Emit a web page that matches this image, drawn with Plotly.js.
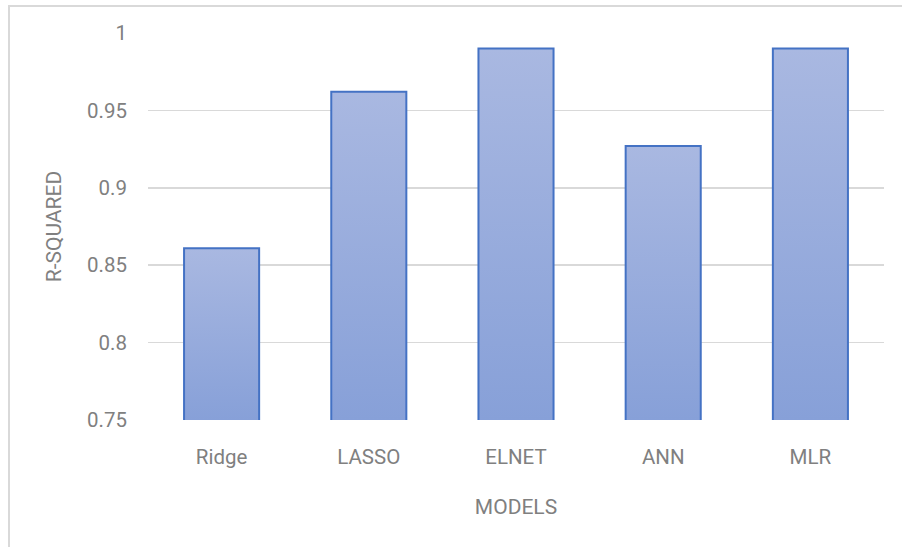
<!DOCTYPE html>
<html>
<head>
<meta charset="utf-8">
<script src="https://cdn.plot.ly/plotly-3.0.1.min.js"></script>
<style>
  body { margin: 0; background: #fff; }
  #wrap { position: relative; width: 902px; height: 547px; overflow: hidden; }
  #chart { position: absolute; left: 0; top: 0; width: 902px; height: 547px; }
  #frame { position: absolute; left: 8px; top: 5px; width: 1000px; height: 700px;
           border: 2px solid #d9d9d9; pointer-events: none; box-sizing: border-box; }
</style>
</head>
<body>
<div id="wrap">
  <div id="chart"></div>
  <div id="frame"></div>
</div>
<script>
const models = ["Ridge", "LASSO", "ELNET", "ANN", "MLR"];
const rSquared = [0.861, 0.962, 0.990, 0.927, 0.990];
const yTicks = [0.75, 0.8, 0.85, 0.9, 0.95, 1];
const yTickText = ["0.75", "0.8", "0.85", "0.9", "0.95", "1"];

const font = "Roboto, 'Open Sans', sans-serif";
const grey = "#808080";

const trace = {
  type: "bar",
  x: models,
  y: rSquared,
  width: 0.51,
  marker: { color: "#98acdc", line: { color: "#4472c4", width: 2 } },
  hoverinfo: "x+y"
};

const layout = {
  width: 902, height: 547,
  margin: { l: 148, r: 18, t: 33, b: 127 },
  paper_bgcolor: "#fff", plot_bgcolor: "#fff",
  showlegend: false,
  font: { family: font, size: 20, color: grey },
  xaxis: {
    showgrid: false, zeroline: false, showline: false,
    ticks: "", ticklabelstandoff: 22,
    tickfont: { family: font, size: 20.5, color: grey },
    title: { text: "MODELS", font: { family: font, size: 21, color: grey }, standoff: 31 }
  },
  yaxis: {
    range: [0.75, 1], tickvals: yTicks, ticktext: yTickText,
    showgrid: true, gridcolor: "#d9d9d9", gridwidth: 1.5,
    zeroline: false, showline: false, ticks: "", ticklabelstandoff: 20,
    tickfont: { family: font, size: 20.5, color: grey },
    title: { text: "R-SQUARED", font: { family: font, size: 21, color: grey }, standoff: 19 }
  }
};

Plotly.newPlot("chart", [trace], layout, { displayModeBar: false, staticPlot: true }).then(function (gd) {
  // per-bar vertical gradient over the visible part of each bar
  const svg = gd.querySelector("svg.main-svg");
  const ns = "http://www.w3.org/2000/svg";
  let defs = svg.querySelector("defs");
  if (!defs) { defs = document.createElementNS(ns, "defs"); svg.insertBefore(defs, svg.firstChild); }
  const plotH = gd._fullLayout._size.h;
  gd.querySelectorAll(".bars .point path").forEach(function (p, i) {
    const bb = p.getBBox();
    const y1 = bb.y;
    const y2 = Math.min(bb.y + bb.height, plotH);
    const grad = document.createElementNS(ns, "linearGradient");
    grad.setAttribute("id", "barGrad" + i);
    grad.setAttribute("gradientUnits", "userSpaceOnUse");
    grad.setAttribute("x1", "0"); grad.setAttribute("y1", String(y1));
    grad.setAttribute("x2", "0"); grad.setAttribute("y2", String(y2));
    const s1 = document.createElementNS(ns, "stop");
    s1.setAttribute("offset", "0"); s1.setAttribute("stop-color", "#a9b8e1");
    const s2 = document.createElementNS(ns, "stop");
    s2.setAttribute("offset", "1"); s2.setAttribute("stop-color", "#87a0d8");
    grad.appendChild(s1); grad.appendChild(s2); defs.appendChild(grad);
    p.style.fill = "url(#barGrad" + i + ")";
  });
});
</script>
</body>
</html>
